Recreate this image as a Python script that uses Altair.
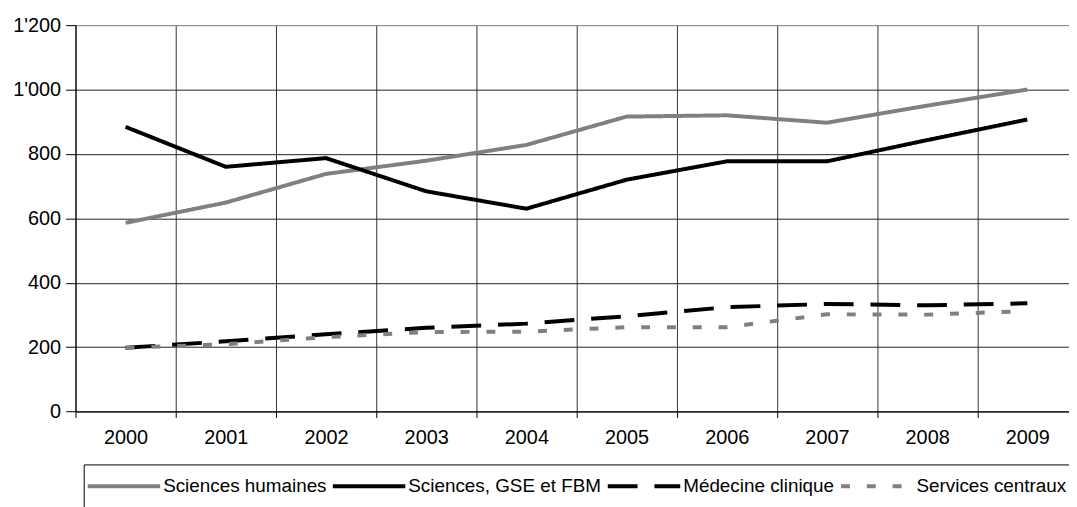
import altair as alt
import pandas as pd

years = ["2000", "2001", "2002", "2003", "2004", "2005", "2006", "2007", "2008", "2009"]
series = ["Sciences humaines", "Sciences, GSE et FBM", "Médecine clinique", "Services centraux"]
sciences_humaines = [586, 649, 738, 779, 828, 916, 920, 897, 950, 1000]
sciences_gse_fbm = [884, 760, 787, 684, 630, 720, 777, 777, 843, 907]
medecine_clinique = [198, 218, 240, 260, 273, 296, 324, 334, 330, 336]
services_centraux = [198, 209, 231, 247, 248, 262, 262, 302, 301, 312]
y_ticks = [0, 200, 400, 600, 800, 1000, 1200]

colors = ["#808080", "#000000", "#000000", "#808080"]
dashes = [[1, 0], [1, 0], [30, 17], [9, 17]]

rows = []
for name, vals in zip(series, [sciences_humaines, sciences_gse_fbm, medecine_clinique, services_centraux]):
    for yr, v in zip(years, vals):
        rows.append({"year": yr, "series": name, "value": v})
df = pd.DataFrame(rows)

FONT = "Liberation Sans"

legend = alt.Legend(
    title=None,
    orient="none",
    legendX=8.3,
    legendY=442.6,
    direction="horizontal",
    columns=4,
    symbolType="M-2.355,-1M-2.355,2.5M-2.355,0L2.355,0",
    symbolSize=961,
    symbolStrokeWidth=4,
    symbolOffset=19,
    labelOffset=22,
    labelFont=FONT,
    labelFontSize=19,
    labelColor="#000000",
    labelLimit=400,
    columnPadding=-3,
    padding=4,
    strokeColor="#000000",
)

chart = alt.Chart(df).mark_line(strokeWidth=4, strokeCap="butt").encode(
    x=alt.X(
        "year:O",
        sort=years,
        scale=alt.Scale(type="band", paddingInner=0, paddingOuter=0, range=[0, 1009.5]),
        axis=alt.Axis(
            title=None,
            tickBand="extent",
            grid=True,
            gridColor="#333333",
            gridWidth=1,
            domainColor="#000000",
            tickColor="#000000",
            tickSize=6,
            labelFont=FONT,
            labelFontSize=20,
            labelColor="#000000",
            labelPadding=10,
            labelAngle=0,
        ),
    ),
    y=alt.Y(
        "value:Q",
        scale=alt.Scale(domain=[0, 1200], nice=False),
        axis=alt.Axis(
            title=None,
            values=y_ticks,
            labelExpr="replace(format(datum.value, ','), ',', \"'\")",
            grid=True,
            gridColor={"condition": {"test": "datum.value === 1200", "value": "#808080"}, "value": "#222222"},
            gridWidth=1,
            domainColor="#000000",
            tickColor="#000000",
            tickSize=10,
            labelPadding=5,
            labelFont=FONT,
            labelFontSize=20,
            labelColor="#000000",
        ),
    ),
    color=alt.Color("series:N", sort=series, scale=alt.Scale(domain=series, range=colors), legend=legend),
    strokeDash=alt.StrokeDash("series:N", sort=series, scale=alt.Scale(domain=series, range=dashes), legend=legend),
).properties(
    width=1001,
    height=389.3,
    padding={"left": 68, "top": 15.4, "right": 0, "bottom": 94.3},
    autosize=alt.AutoSizeParams(type="none"),
).configure_view(stroke=None).configure(font=FONT)

chart.save("out.html", embed_options={"renderer": "svg", "actions": False})
